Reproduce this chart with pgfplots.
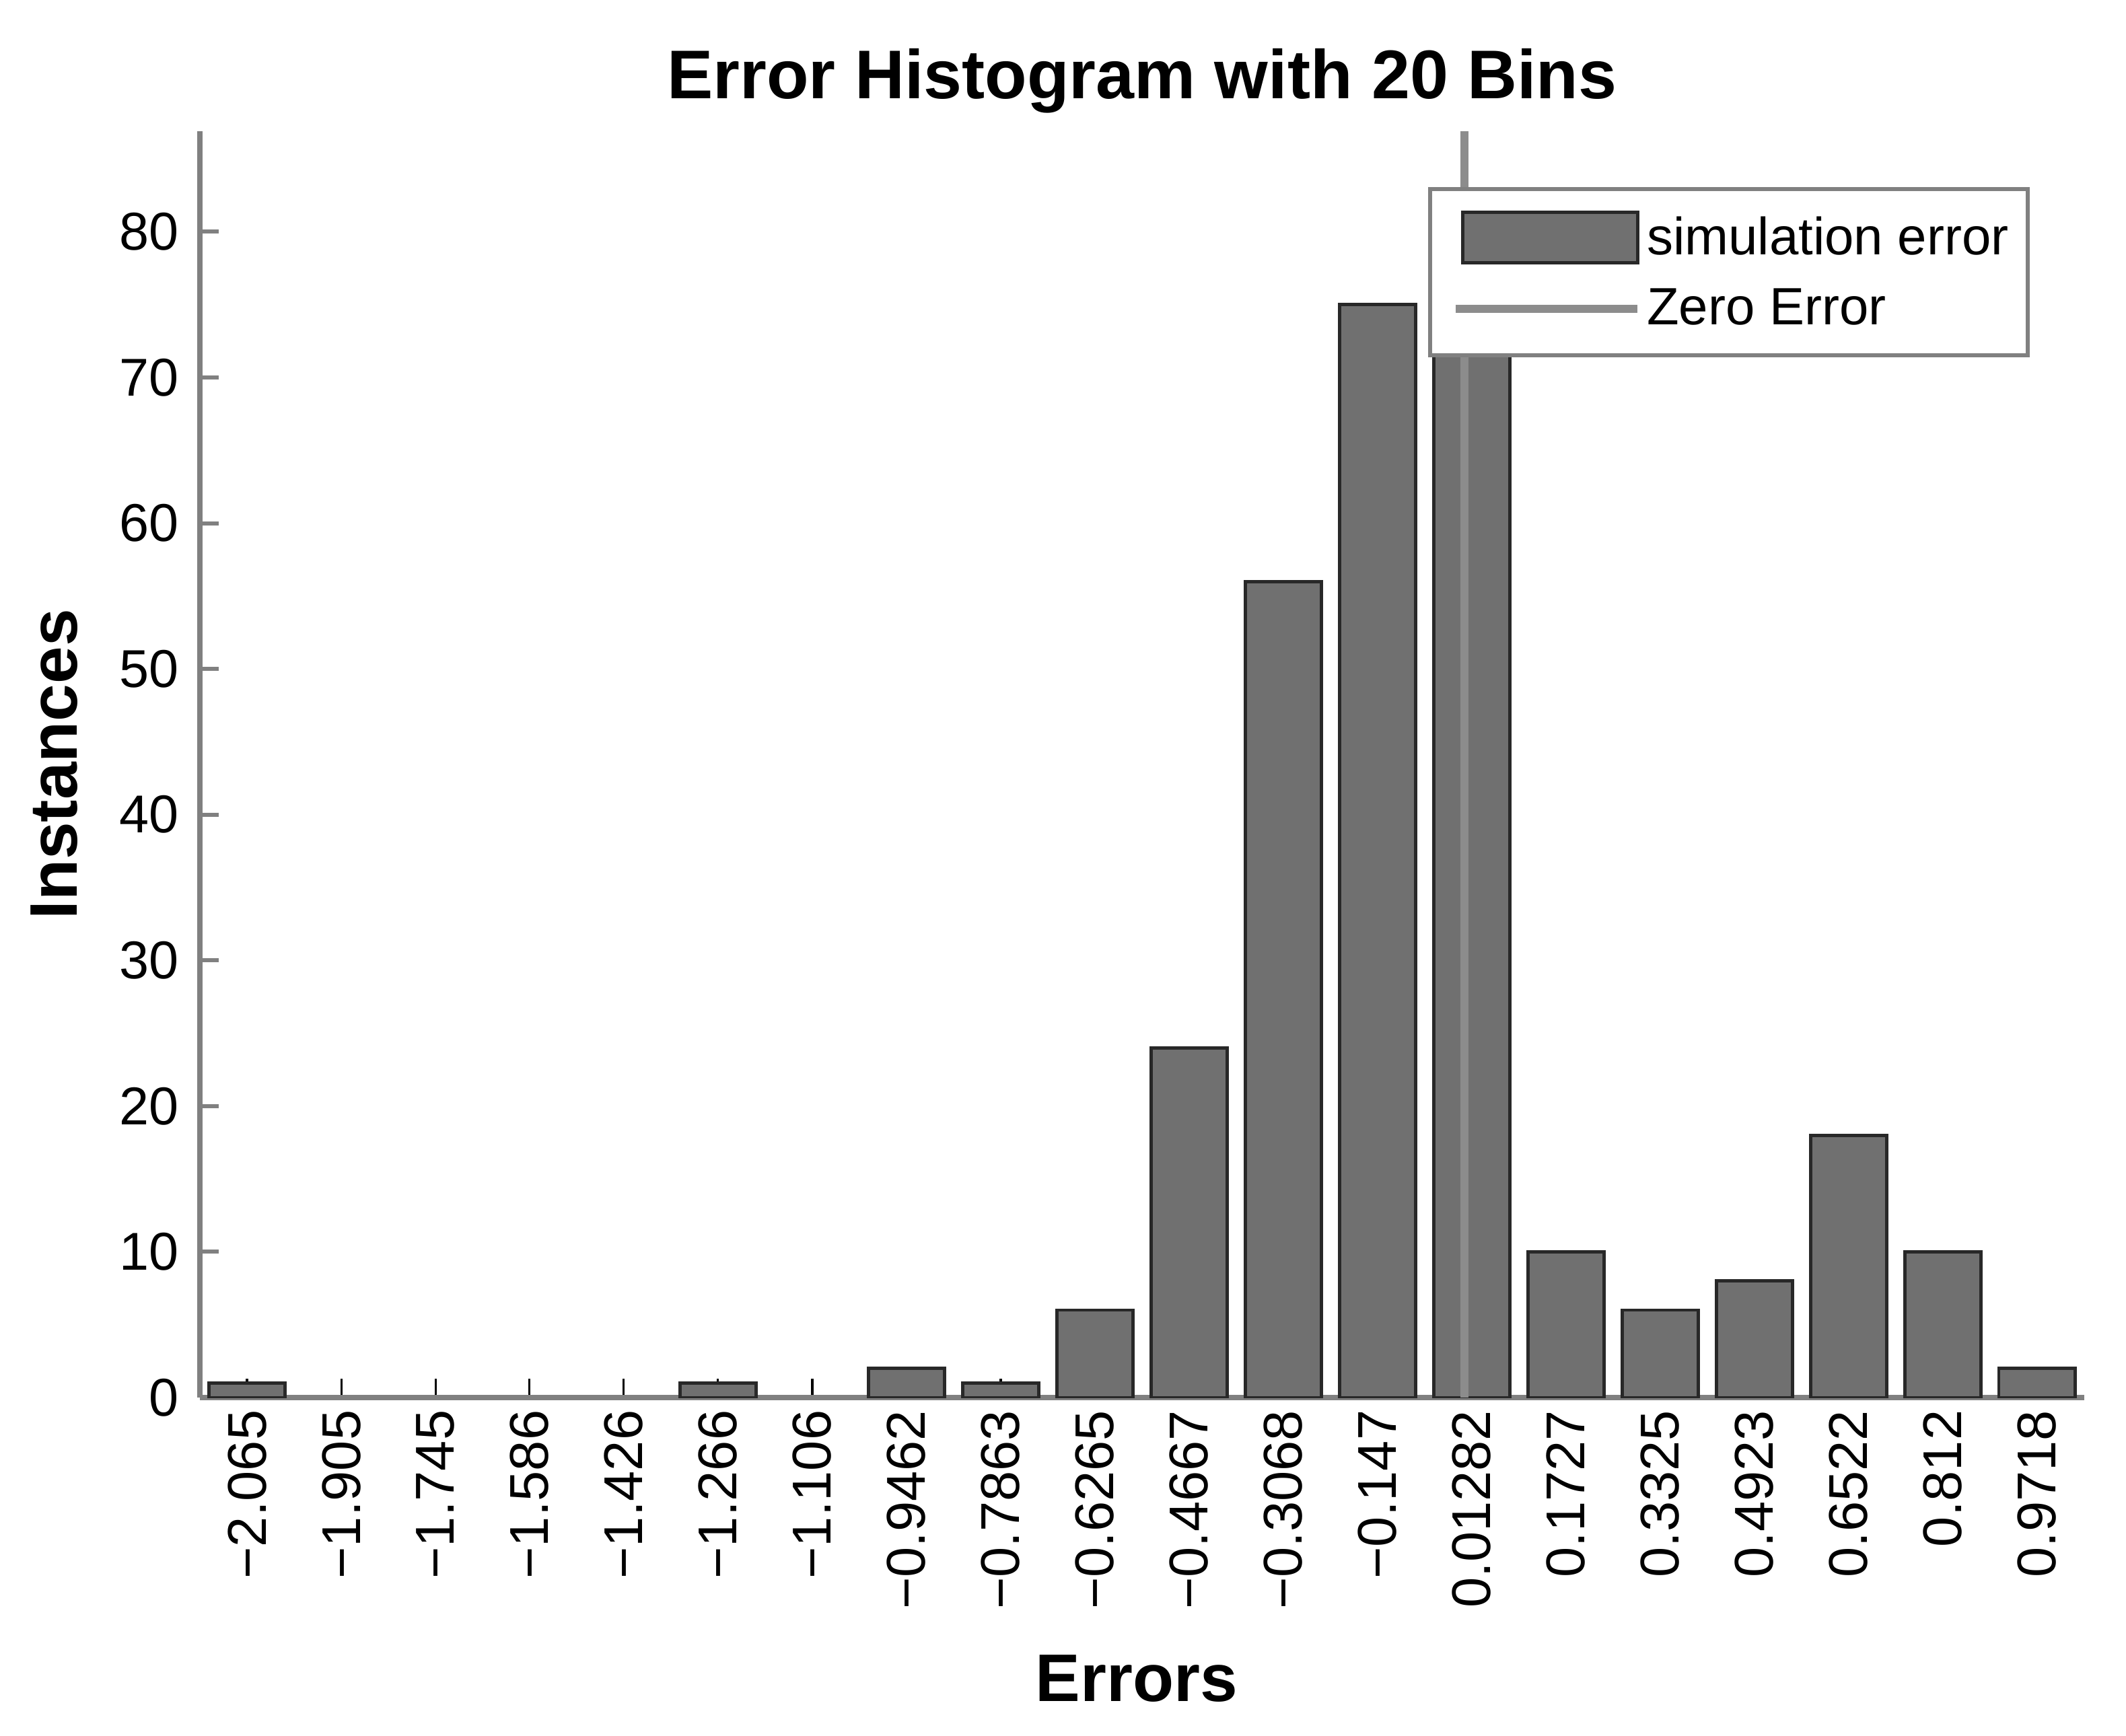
\documentclass[border=0pt]{standalone}
\usepackage{fontspec}
\setmainfont{Liberation Sans}
\usepackage{pgfplots}
\pgfplotsset{compat=1.18}
\definecolor{barfill}{RGB}{112,112,112}
\definecolor{baredge}{RGB}{40,40,40}
\definecolor{axgray}{RGB}{128,128,128}
\definecolor{zeroline}{RGB}{140,140,140}
\begin{document}
\begin{tikzpicture}
\begin{axis}[
  scale only axis,
  width=700pt, height=470.5pt,
  xmin=-2.145, xmax=1.052,
  ymin=0, ymax=86.9,
  axis x line*=bottom, axis y line*=left,
  axis line style={axgray, line width=2pt},
  tick align=inside,
  major tick length=7pt,
  xtick={-2.065,-1.905,-1.745,-1.586,-1.426,-1.266,-1.106,-0.9462,-0.7863,-0.6265,-0.4667,-0.3068,-0.147,0.01282,0.1727,0.3325,0.4923,0.6522,0.812,0.9718},
  xticklabels={−2.065,−1.905,−1.745,−1.586,−1.426,−1.266,−1.106,−0.9462,−0.7863,−0.6265,−0.4667,−0.3068,−0.147,0.01282,0.1727,0.3325,0.4923,0.6522,0.812,0.9718},
  ytick={0,10,20,30,40,50,60,70,80},
  yticklabels={0,10,20,30,40,50,60,70,80},
  xtick style={black, line width=0.8pt},
  ytick style={axgray, line width=1.5pt},
  xticklabel style={rotate=90, anchor=east, inner sep=4.5pt, font=\fontsize{20.3}{24}\selectfont},
  yticklabel style={anchor=east, inner sep=0pt, xshift=-7.75pt, font=\fontsize{19.8}{24}\selectfont},
  title={Error Histogram with 20 Bins},
  title style={at={(axis description cs:0.5,1)}, anchor=base, yshift=6pt, font=\bfseries\fontsize{25.6}{30}\selectfont},
  xlabel={Errors},
  xlabel style={at={(axis description cs:0.497,0)}, anchor=base, yshift=-112.75pt, font=\bfseries\fontsize{25}{30}\selectfont},
  ylabel={Instances},
  ylabel style={at={(axis description cs:-0.065,0.5)}, anchor=base, rotate=0, font=\bfseries\fontsize{25}{30}\selectfont},
  legend style={at={(rel axis cs:0.971,0.956)}, anchor=north east, draw=axgray, line width=1.5pt, fill=white,
    font=\fontsize{19.5}{23}\selectfont, inner xsep=5pt, inner ysep=8pt, row sep=7pt},
  legend cell align=left,
]
\addplot[ybar, bar width=0.1295, fill=barfill, draw=baredge, line width=1.2pt,
  y filter/.expression={y==0 ? nan : y},
  legend image code/.code={\path[draw=none, fill=none] (0pt,-9.4pt) rectangle (72pt,9.4pt);
    \draw[fill=barfill, draw=baredge, line width=1.2pt] (7pt,-9.4pt) rectangle (72pt,9.4pt);}]
coordinates {
(-2.065,1) (-1.905,0) (-1.745,0) (-1.586,0) (-1.426,0) (-1.266,1) (-1.106,0)
(-0.9462,2) (-0.7863,1) (-0.6265,6) (-0.4667,24) (-0.3068,56) (-0.147,75)
(0.01282,79) (0.1727,10) (0.3325,6) (0.4923,8) (0.6522,18) (0.812,10) (0.9718,2)
};
\addlegendentry{simulation error}
\addplot[zeroline, line width=3pt,
  legend image code/.code={\path[draw=none, fill=none] (0pt,-2pt) rectangle (72pt,2pt);
    \draw[zeroline, line width=3pt] (4.5pt,0pt) -- (72pt,0pt);}]
coordinates {(0,0) (0,86.9)};
\addlegendentry{Zero Error}
\end{axis}
\path ([xshift=-74.25pt,yshift=-125.75pt]current axis.south west) rectangle ([xshift=15.5pt,yshift=48.75pt]current axis.north east);
\end{tikzpicture}
\end{document}
